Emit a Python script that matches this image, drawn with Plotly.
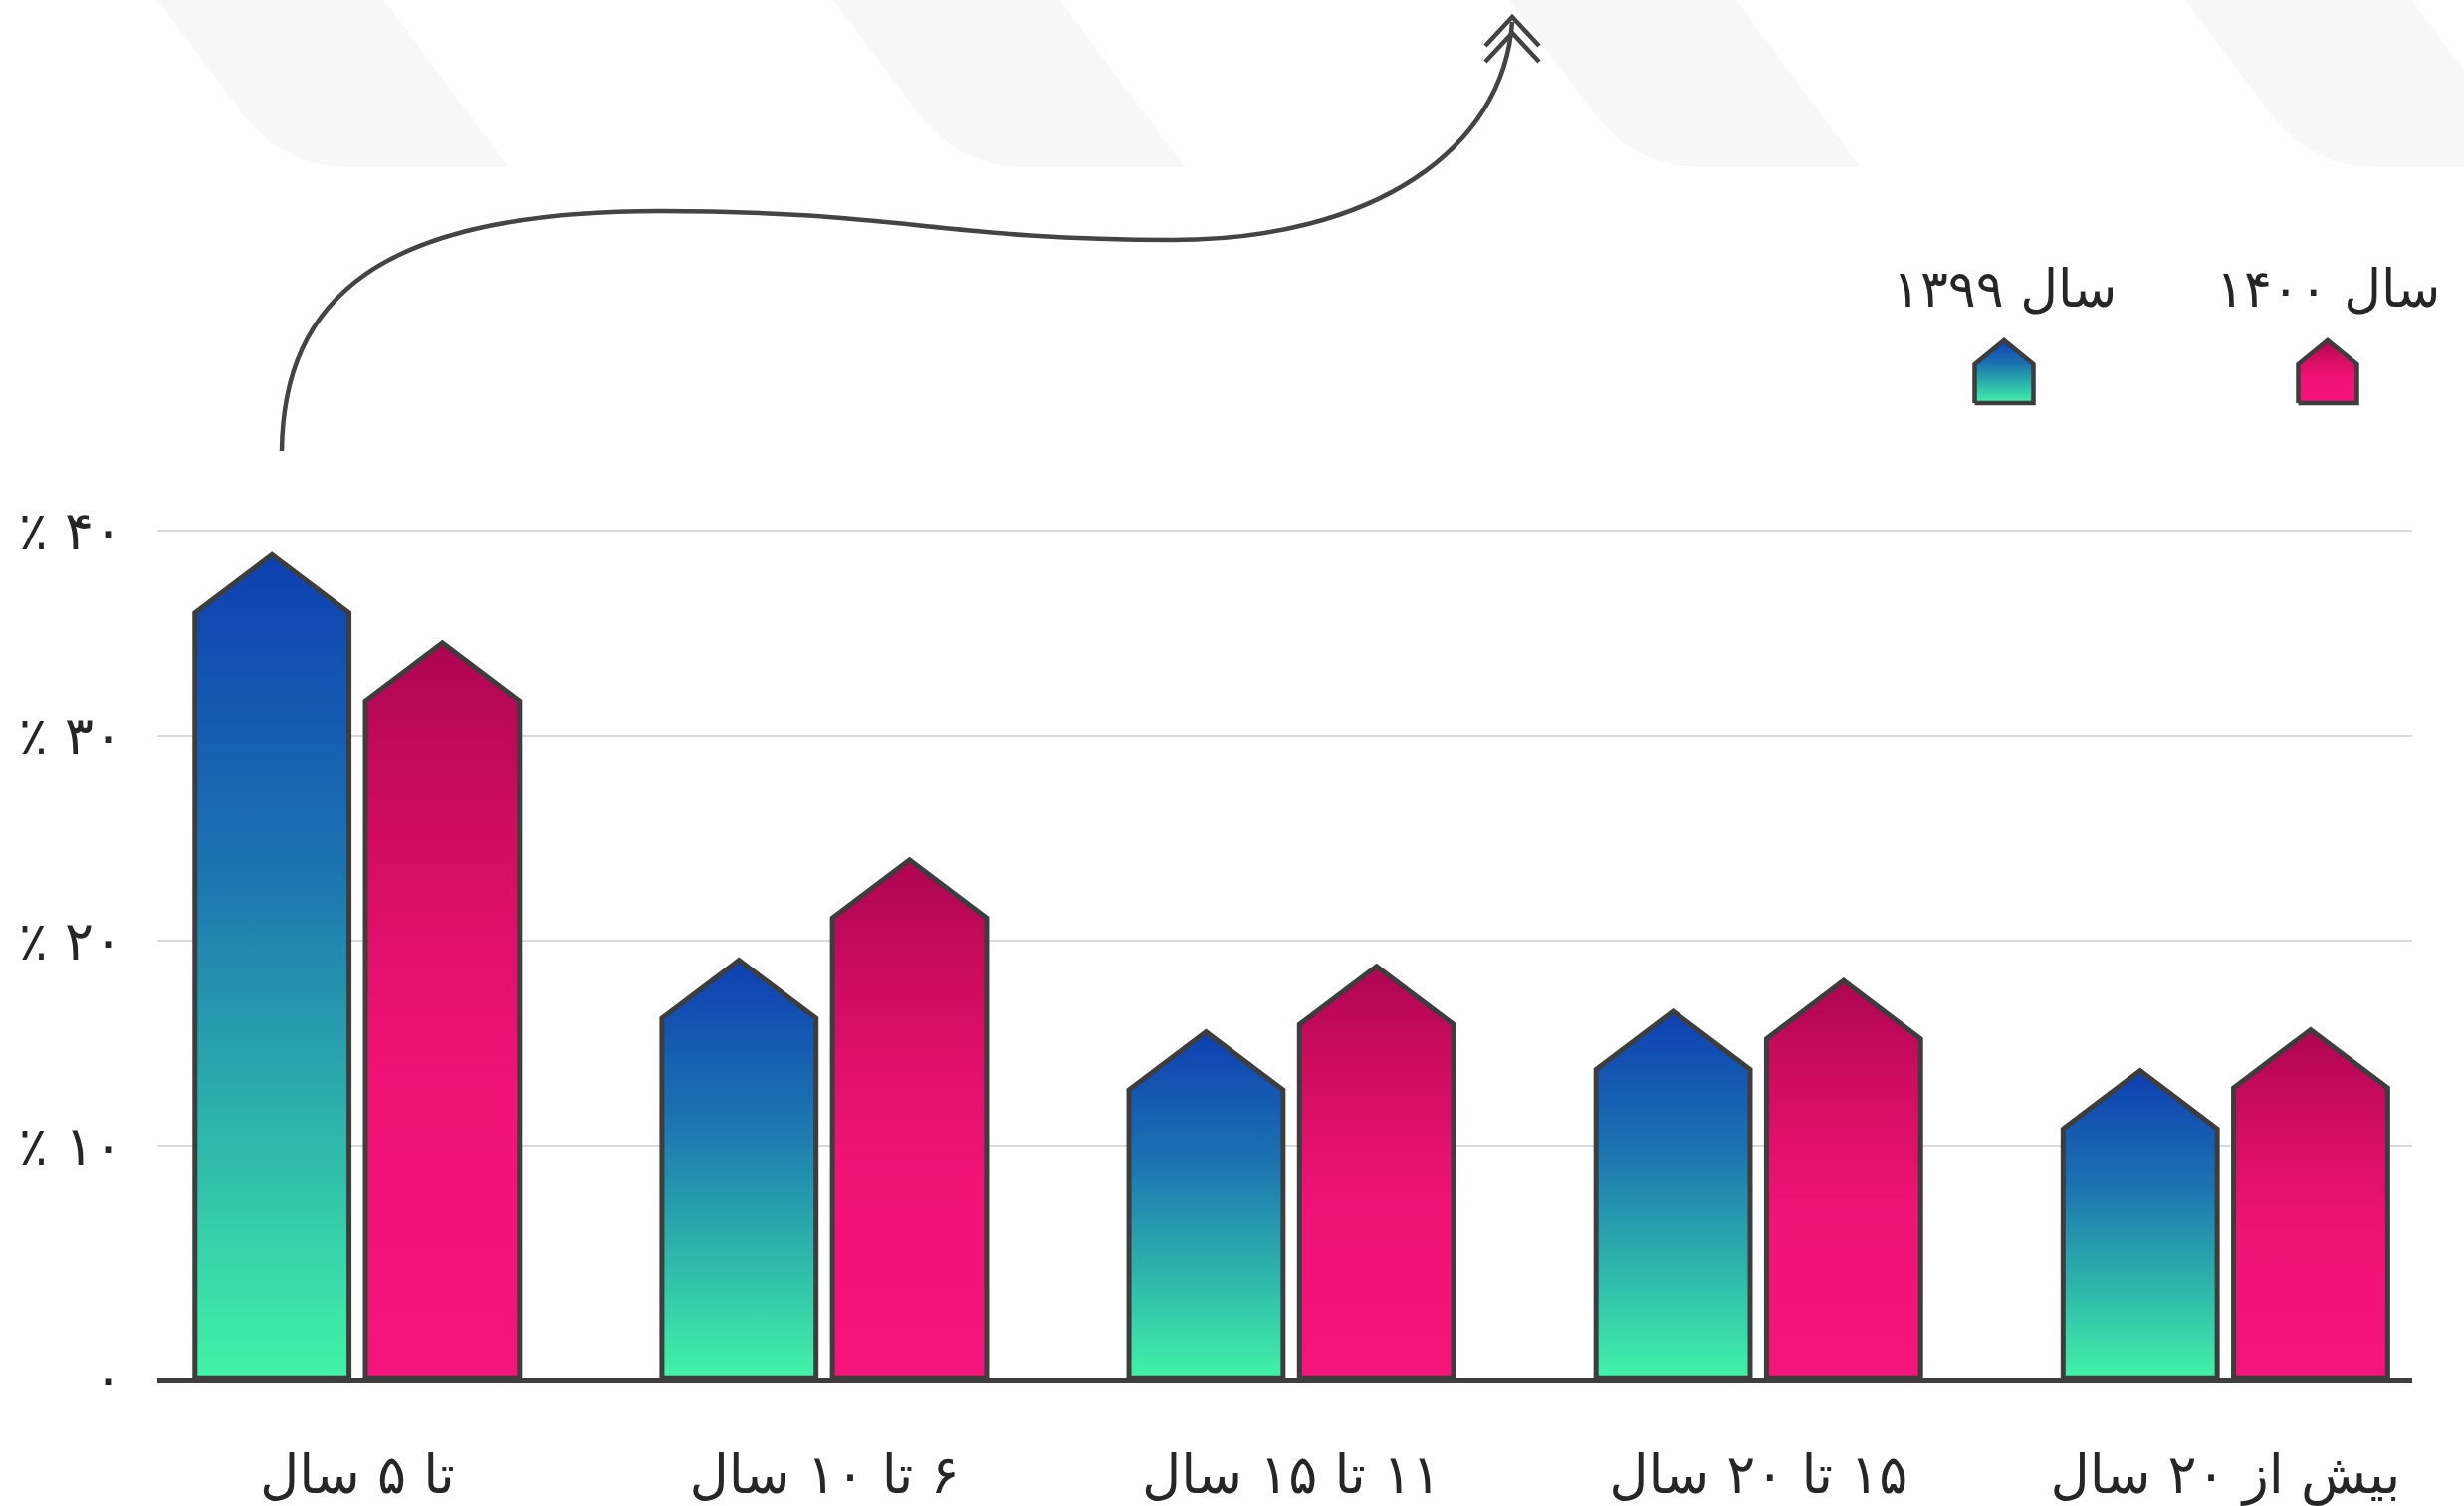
import plotly.graph_objects as go

# ---------------- data ----------------
categories = ["تا ۵ سال", "۶ تا ۱۰ سال", "۱۱ تا ۱۵ سال", "۱۵ تا ۲۰ سال", "بیش از ۲۰ سال"]
series_names = ["سال ۱۳۹۹", "سال ۱۴۰۰"]
values_1399 = [36.0, 16.2, 12.7, 13.7, 10.8]
values_1400 = [31.7, 21.1, 15.9, 15.2, 12.8]
y_tick_values = [10, 20, 30, 40]
y_tick_labels = ["٪ ۱۰", "٪ ۲۰", "٪ ۳۰", "٪ ۴۰"]
zero_label = "۰"

# ---------------- style ----------------
W, H = 2475, 1513
FONT = "DejaVu Sans"
TEXT = "#262626"
OUTLINE = "#3d3d3d"
BASE = -1.36          # baseline sits slightly below the zero level
ROOF = 2.84           # height of the roof of each "house" bar (axis units)
BAR_W = 0.33
BAR_OFF = 0.1825
RLM = "\u200f"

blue_scale = [[0, "#42f3a7"], [0.3, "#2db5ab"], [0.62, "#1c74b1"], [1, "#0e3fb2"]]
pink_scale = [[0, "#f51479"], [0.4, "#f21377"], [0.72, "#d30d63"], [1, "#ad0650"]]

fig = go.Figure()

def house(xc, top, colorscale, xa="x", ya="y", base=BASE, width=BAR_W, roof=ROOF, lw=5,
          start=None, stop=None):
    x0, x1 = xc - width / 2, xc + width / 2
    fg = dict(type="vertical", colorscale=colorscale)
    if start is not None:
        fg["start"] = start
        fg["stop"] = stop
    return go.Scatter(
        x=[x0, x0, xc, x1, x1, x0],
        y=[base, top, top + roof, top, base, base],
        mode="lines", fill="toself", fillgradient=fg,
        line=dict(color=OUTLINE, width=lw),
        xaxis=xa, yaxis=ya, showlegend=False, hoverinfo="skip",
    )

for i, (v1, v2) in enumerate(zip(values_1399, values_1400)):
    fig.add_trace(house(i - BAR_OFF, v1, blue_scale))
    fig.add_trace(house(i + BAR_OFF, v2, pink_scale))

# legend icons (overlay pixel axes)
legend_x = [2013, 2338]
legend_scales = [blue_scale, pink_scale]
for lx, cs in zip(legend_x, legend_scales):
    fig.add_trace(house(lx, 366, cs, xa="x2", ya="y2", base=405, width=59, roof=-24, lw=4.5,
                        start=405, stop=342))

annotations = []
for lx, name in zip(legend_x, series_names):
    annotations.append(dict(x=lx, y=290, xref="x2", yref="y2", text=name, showarrow=False,
                            font=dict(family=FONT, size=52, color=TEXT),
                            xanchor="center", yanchor="middle"))

# faint background chevron bands (decorative)
shapes = []
for k in range(4):
    dx = 158 + 679 * k - 153
    p = (f"M {153+dx},0 L {381+dx},0 L {506+dx},168 L {345+dx},168 "
         f"Q {280+dx},168 {239+dx},115 Z")
    shapes.append(dict(type="path", path=p, xref="x2", yref="y2", layer="below",
                       fillcolor="#f8f8f8", line=dict(width=0)))

# decorative arrow
arrow_path = ("M 283,453 C 285,300 380,212 663,212 "
              "C 900,212 950,241 1177,241 "
              "C 1380,241 1510,150 1519,22")
shapes += [
    dict(type="path", path=arrow_path, xref="x2", yref="y2",
         line=dict(color="#444444", width=4.5)),
    dict(type="path", path="M 1492,46 L 1519,17 L 1546,46", xref="x2", yref="y2",
         line=dict(color="#444444", width=4.5)),
    dict(type="path", path="M 1492,62 L 1519,33 L 1546,62", xref="x2", yref="y2",
         line=dict(color="#444444", width=4.5)),
]

x_labels = [(RLM + c) for c in categories]

fig.update_layout(
    width=W, height=H,
    margin=dict(l=0, r=0, t=0, b=0, autoexpand=False),
    paper_bgcolor="#ffffff", plot_bgcolor="rgba(0,0,0,0)",
    font=dict(family=FONT, color=TEXT),
    showlegend=False,
    annotations=annotations,
    shapes=shapes,
    xaxis=dict(domain=[158 / W, 2423 / W], range=[-0.428, 4.400],
               tickmode="array", tickvals=list(range(len(categories))), ticktext=x_labels,
               tickfont=dict(family=FONT, size=54, color=TEXT),
               ticks="", ticklabelstandoff=46, automargin=False,
               showgrid=False, zeroline=False,
               showline=True, linecolor=OUTLINE, linewidth=5, anchor="y"),
    yaxis=dict(domain=[1 - 1384.3 / H, 1 - 451.2 / H], range=[BASE, 44],
               tickmode="array", tickvals=[BASE] + y_tick_values,
               ticktext=[zero_label] + y_tick_labels,
               tickfont=dict(family=FONT, size=54, color=TEXT),
               ticks="", ticklabelstandoff=34, automargin=False,
               showgrid=True, gridcolor="#dadada", gridwidth=2,
               zeroline=False, showline=False, anchor="x"),
    xaxis2=dict(domain=[0, 1], range=[0, W], visible=False, anchor="y2", automargin=False),
    yaxis2=dict(domain=[0, 1], range=[H, 0], visible=False, anchor="x2", automargin=False),
)

fig.write_html("out.html", config={"displayModeBar": False},
               post_script="document.body.style.margin='0';document.body.style.overflow='hidden';")
